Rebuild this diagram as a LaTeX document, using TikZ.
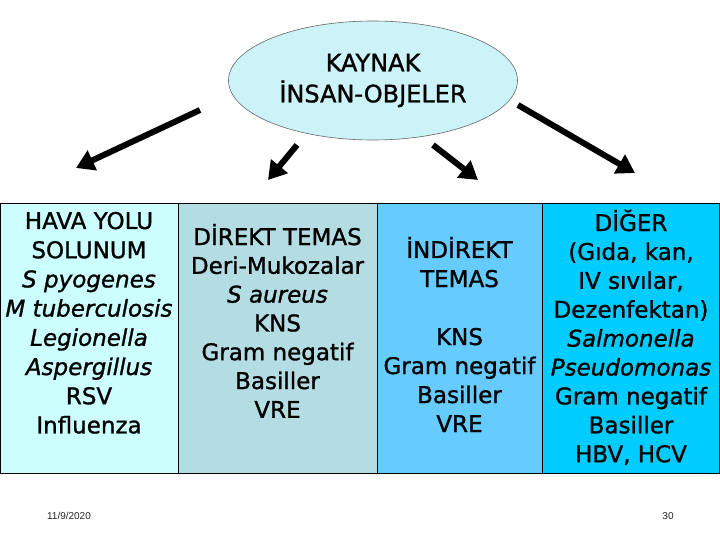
\documentclass[tikz,border=0pt]{standalone}
\usepackage{fontspec}
\setmainfont{DejaVu Sans}[ItalicFont={DejaVu Sans Oblique}, FakeBold=1.2]
\newfontfamily\footfont{Liberation Sans}
\usepackage{tikz}
\usetikzlibrary{positioning}
\usetikzlibrary{shapes.geometric}
\usetikzlibrary{arrows.meta}
\definecolor{ovalfill}{HTML}{CCF4F8}
\definecolor{havafill}{HTML}{CCFFFF}
\definecolor{direktfill}{HTML}{B3DDE3}
\definecolor{indirektfill}{HTML}{66CCFF}
\definecolor{digerfill}{HTML}{00CCFF}
\tikzset{
  bigtext/.style={font=\fontsize{24}{31}\selectfont, inner sep=0pt},
  line/.style={anchor=base, font=\fontsize{23}{29}\selectfont, inner sep=0pt},
  colbox/.style={draw=black, line width=0.8pt},
  fatarrow/.style={line width=6pt, -{Triangle[length=18pt,width=21pt]}},
  foot/.style={font=\footfont\fontsize{10}{12}\selectfont, text=black!85}
}

\begin{document}
\begin{tikzpicture}[x=1pt,y=-1pt]
\useasboundingbox (0,0) rectangle (720,540);
\node[ellipse, draw=gray!80!black, line width=0.6pt, fill=ovalfill, minimum width=289pt, minimum height=119pt, align=center, bigtext] (kaynak) at (373,80.5) {KAYNAK\\İNSAN-OBJELER};

% arrows
\coordinate (a1s) at (200,110); \coordinate (a1e) at (76,168);
\coordinate (a2s) at (297,145); \coordinate (a2e) at (268,180);
\coordinate (a3s) at (433,145); \coordinate (a3e) at (478,180);
\coordinate (a4s) at (518,105); \coordinate (a4e) at (635,173);
\draw[fatarrow] (a1s) -- (a1e);
\draw[fatarrow] (a2s) -- (a2e);
\draw[fatarrow] (a3s) -- (a3e);
\draw[fatarrow] (a4s) -- (a4e);

% columns
\draw[colbox, fill=havafill] (0.4,203) rectangle (178,473);
\draw[colbox, fill=direktfill] (178,203) rectangle (377,473);
\draw[colbox, fill=indirektfill] (377,203) rectangle (542,473);
\draw[colbox, fill=digerfill] (542,203) rectangle (719.6,473);

\foreach \t [count=\i from 0] in {HAVA YOLU, SOLUNUM, \textit{S pyogenes}, \textit{M tuberculosis}, \textit{Legionella}, \textit{Aspergillus}, RSV, Influenza}
  \node[line] (hava\i) at (89,{229+29.2*\i}) {\t};
\foreach \t [count=\i from 0] in {DİREKT TEMAS, Deri-Mukozalar, \textit{S aureus}, KNS, Gram negatif, Basiller, VRE}
  \node[line] (direkt\i) at (277.5,{245+28.8*\i}) {\t};
\foreach \t/\k in {İNDİREKT/0, TEMAS/1, KNS/3, Gram negatif/4, Basiller/5, VRE/6}
  \node[line] (indirekt\k) at (459.5,{258+29*\k}) {\t};
\foreach \t [count=\i from 0] in {DİĞER, {(Gıda, kan,}, {IV sıvılar,}, Dezenfektan), \textit{Salmonella}, \textit{Pseudomonas}, Gram negatif, Basiller, {HBV, HCV}}
  \node[line] (diger\i) at (631,{231+28.9*\i}) {\t};

\node[foot] (datum) at (69,516) {11/9/2020};
\node[foot] (sayfa) at (668,516) {30};
\end{tikzpicture}
\end{document}
